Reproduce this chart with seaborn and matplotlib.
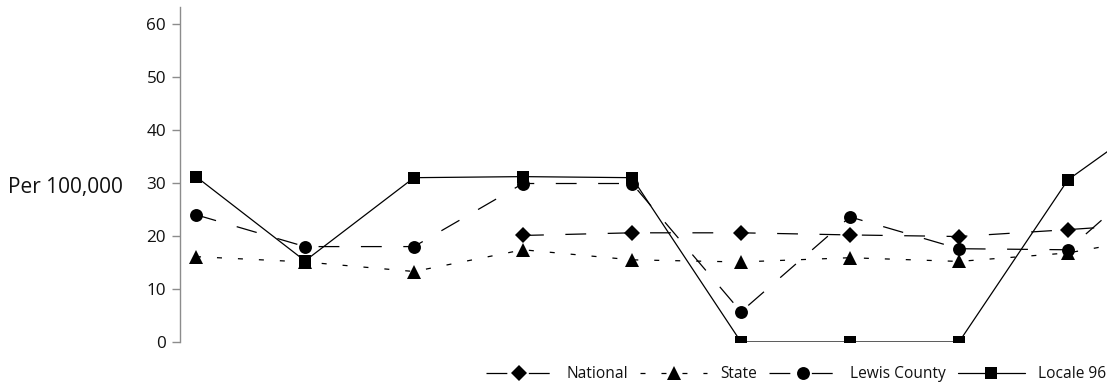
import numpy as np
import pandas as pd
import matplotlib
matplotlib.use("Agg")
import matplotlib.pyplot as plt
import seaborn as sns

# ---- data ----
x_index = list(range(10))
national = [np.nan, np.nan, np.nan, 20.1, 20.6, 20.6, 20.2, 19.9, 21.2, 22.6]
state = [16.1, 15.1, 13.3, 17.4, 15.5, 15.1, 15.9, 15.2, 16.8, 20.5]
lewis_county = [24.0, 18.0, 18.0, 29.9, 29.9, 5.7, 23.6, 17.6, 17.4, 35.5]
locale_96 = [31.2, 15.3, 31.0, 31.2, 31.0, 0.0, 0.0, 0.0, 30.6, 45.3]
series_names = ["National", "State", "Lewis County", "Locale 96"]
y_ticks = [0, 10, 20, 30, 40, 50, 60]
y_label = "Per 100,000"

sns.set_style("white")
plt.rcParams["font.family"] = ["Open Sans", "DejaVu Sans"]
plt.rcParams["lines.scale_dashes"] = False

fig = plt.figure(figsize=(11.07, 3.86), dpi=100)
ax = fig.add_axes([180 / 1107, 44 / 386, 927 / 1107, 335 / 386])

long_dash = (0, (15, 15.5))
short_dash = (0, (3.6, 11.5))
styles = {
    "National": dict(marker="D", ms=8.3, linestyle=long_dash),
    "State": dict(marker="^", ms=10, linestyle=short_dash),
    "Lewis County": dict(marker="o", ms=9.3, linestyle=long_dash),
    "Locale 96": dict(marker="s", ms=9.2, linestyle="-"),
}
values = {
    "National": national,
    "State": state,
    "Lewis County": lewis_county,
    "Locale 96": locale_96,
}

for name in series_names:
    df = pd.DataFrame({"x": x_index, "y": values[name]}).dropna()
    sns.lineplot(data=df, x="x", y="y", ax=ax, color="black", lw=0.9,
                 label=name, markeredgewidth=0, sort=False,
                 **styles[name])

ax.set_xlim(-0.147, 8.358)
ax.set_ylim(0, 63.2)
ax.set_yticks(y_ticks)
ax.set_xticks([])
ax.set_xlabel("")
ax.set_ylabel(y_label, rotation=0, fontsize=15, ha="left", va="baseline",
              color="#111111")
ax.yaxis.set_label_coords((8 - 180) / 927, (342 - 192.7) / 335)

for side in ["top", "right", "bottom"]:
    ax.spines[side].set_visible(False)
ax.spines["left"].set_color("#8c8c8c")
ax.spines["left"].set_linewidth(1.0)
ax.tick_params(axis="y", which="major", direction="out", length=6,
               width=1.0, color="#8c8c8c", labelsize=12.3, pad=4,
               labelcolor="#111111", left=True)

leg = ax.legend(loc="center right", bbox_to_anchor=(1106 / 1107, 1 - 374 / 386),
                bbox_transform=fig.transFigure, ncol=4, frameon=False,
                fontsize=11.2, handlelength=4.3, handletextpad=0.85,
                columnspacing=0.8, borderpad=0, borderaxespad=0, numpoints=1)
for t in leg.get_texts():
    t.set_color("#111111")

fig.savefig("out.png", dpi=100)
